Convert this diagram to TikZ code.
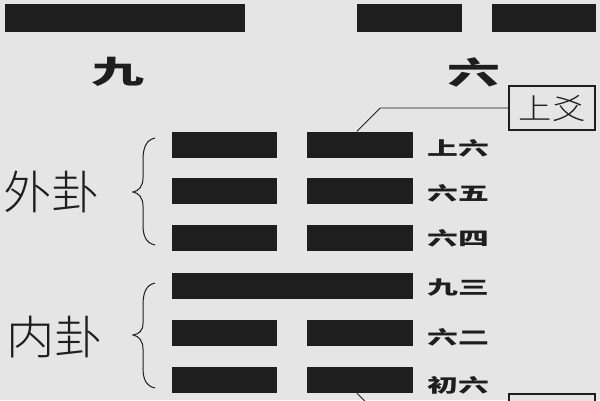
\documentclass[tikz,border=0pt]{standalone}
\usepackage{fontspec}
\newfontfamily\cjk{Noto Sans CJK SC}
\newfontfamily\cjkthin{Noto Sans CJK SC Light}
\definecolor{bg}{HTML}{E5E5E5}
\definecolor{ink}{HTML}{1E1E1E}
\tikzset{
  bar/.style={fill=ink, draw=none, inner sep=0pt, minimum height=26pt},
  topbar/.style={fill=ink, draw=none, inner sep=0pt, minimum height=28pt},
  yaolabel/.style={anchor=west, inner sep=0pt, text=ink, font=\cjk\bfseries\fontsize{22}{22}\selectfont},
  biglabel/.style={inner sep=0pt, text=ink, font=\cjk\bfseries\fontsize{33}{33}\selectfont},
  guatext/.style={inner sep=0pt, text=ink, font=\cjkthin\fontsize{46}{46}\selectfont},
  tagbox/.style={draw=ink, line width=1.3pt, fill=bg, minimum width=86pt, minimum height=44pt, inner sep=0pt, text=ink, font=\cjkthin\fontsize{29}{29}\selectfont},
  pointer/.style={draw=ink, line width=0.9pt},
  bracestyle/.style={draw=ink, line width=1pt}
}
\begin{document}
\begin{tikzpicture}[x=1pt, y=-1pt]
\useasboundingbox (0,0) rectangle (600,400);
\clip (0,0) rectangle (600,400);
\fill[bg] (0,0) rectangle (600,400);

% top legend
\node[topbar, minimum width=240pt] (yang) at (125,18) {};
\node[topbar, minimum width=105pt] (yinl) at (409.5,18) {};
\node[topbar, minimum width=104pt] (yinr) at (544,18) {};
\node[biglabel] (jiu) at (118,72) {\scalebox{1.6}[0.95]{九}};
\node[biglabel] (liu) at (474,72) {\scalebox{1.6}[0.95]{六}};

% hexagram lines
\node[bar, minimum width=105pt] (b1l) at (224.5,144.5) {};
\node[bar, minimum width=106pt] (b1r) at (360,144.5) {};
\node[bar, minimum width=105pt] (b2l) at (224.5,191) {};
\node[bar, minimum width=106pt] (b2r) at (360,191) {};
\node[bar, minimum width=105pt] (b3l) at (224.5,237.5) {};
\node[bar, minimum width=106pt] (b3r) at (360,237.5) {};
\node[bar, minimum width=241pt] (b4) at (292.5,286) {};
\node[bar, minimum width=105pt] (b5l) at (224.5,332.5) {};
\node[bar, minimum width=106pt] (b5r) at (360,332.5) {};
\node[bar, minimum width=105pt] (b6l) at (224.5,380) {};
\node[bar, minimum width=106pt] (b6r) at (360,380) {};

% line names
\node[yaolabel] (l1) at (427,148) {\scalebox{1.4}[0.85]{上六}};
\node[yaolabel] (l2) at (427,193) {\scalebox{1.4}[0.85]{六五}};
\node[yaolabel] (l3) at (427,238) {\scalebox{1.4}[0.85]{六四}};
\node[yaolabel] (l4) at (427,288) {\scalebox{1.4}[0.85]{九三}};
\node[yaolabel] (l5) at (427,337) {\scalebox{1.4}[0.85]{六二}};
\node[yaolabel] (l6) at (427,385) {\scalebox{1.4}[0.85]{初六}};

% trigram labels and braces
\node[guatext] (wai) at (52,192) {\scalebox{1.05}[1]{外卦}};
\node[guatext] (nei) at (55,337) {\scalebox{1.05}[1]{内卦}};
\draw[bracestyle] (155,138) .. controls (145,140) and (143,150) .. (143,160) -- (143,178)
  .. controls (143,186) and (139,191) .. (133,192)
  .. controls (139,193) and (143,198) .. (143,206) -- (143,225)
  .. controls (143,236) and (146,243) .. (155,245);
\draw[bracestyle] (155,283) .. controls (145,285) and (143,295) .. (143,305) -- (143,323)
  .. controls (143,331) and (139,334) .. (133,335)
  .. controls (139,336) and (143,341) .. (143,349) -- (143,368)
  .. controls (143,379) and (146,386) .. (155,388);

% tags
\node[tagbox] (shangyao) at (552,108) {\scalebox{1.15}[1]{上爻}};
\node[tagbox] (chuyao) at (552,416) {};
\draw[pointer] (shangyao.west) -- ++(-128,0) -- ([xshift=-3pt]b1r.north);
\draw[pointer] ([xshift=-3pt]b6r.south) -- ++(24,24) -- (chuyao.west);
\end{tikzpicture}
\end{document}
